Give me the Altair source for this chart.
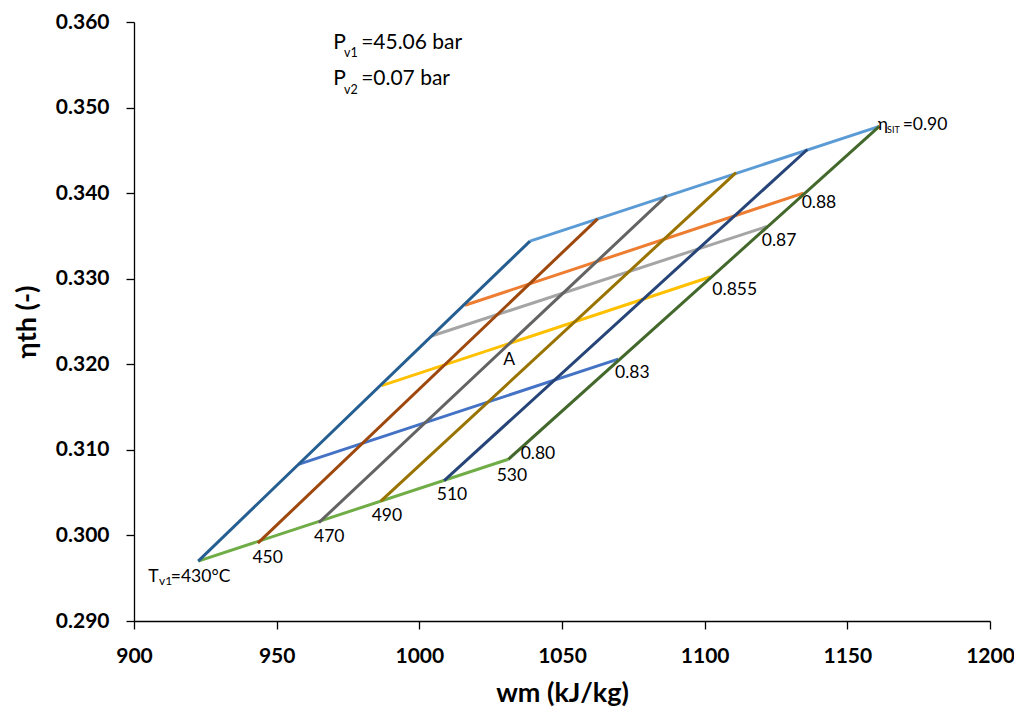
import altair as alt
import pandas as pd

FONT = "Lato, 'Noto Sans', 'DejaVu Sans', sans-serif"

# Lines of constant isentropic turbine efficiency (eta_SIT), from T=430 to T=530
eta_names = ["0.90", "0.88", "0.87", "0.855", "0.83", "0.80"]
eta_colors = ["#5B9BD5", "#ED7D31", "#A5A5A5", "#FFC000", "#4472C4", "#70AD47"]
eta_x_start = [1038.8, 1016.0, 1004.3, 986.8, 957.6, 922.5]
eta_y_start = [0.3344, 0.3269, 0.3233, 0.3175, 0.3083, 0.2970]
eta_x_end = [1161.2, 1134.6, 1121.8, 1101.9, 1069.7, 1031.2]
eta_y_end = [0.3478, 0.3400, 0.3361, 0.3302, 0.3206, 0.3089]

# Lines of constant live-steam temperature T_v1, from eta=0.80 to eta=0.90
t_names = ["430", "450", "470", "490", "510", "530"]
t_colors = ["#255E91", "#9E480E", "#636363", "#997300", "#264478", "#43682B"]
t_x_start = [922.5, 943.4, 964.8, 986.5, 1008.7, 1031.2]
t_y_start = [0.2970, 0.2991, 0.3015, 0.3040, 0.3064, 0.3089]
t_x_end = [1038.8, 1062.5, 1086.7, 1111.0, 1136.0, 1161.2]
t_y_end = [0.3344, 0.3370, 0.3397, 0.3424, 0.3451, 0.3478]

# Data labels (left edge, baseline) in data units
lab_text = ["0.88", "0.87", "0.855", "0.83", "0.80", "530", "510", "490", "470", "450", "A",
            "T", "=430°C", "η", "=0.90"]
lab_x = [1134.0, 1120.0, 1102.7, 1068.6, 1035.5, 1027.1, 1006.1, 983.3, 963.1, 941.5, 1029.4,
         905.0, 912.9, 1160.7, 1169.4]
lab_y = [0.33831, 0.33387, 0.32808, 0.31844, 0.30891, 0.30640, 0.30409, 0.30166, 0.29926, 0.29676, 0.31991,
         0.29451, 0.29451, 0.34737, 0.34737]

sub_text = ["v1"]
sub_x = [908.8]
sub_y = [0.29422]

tiny_text = ["SIT"]
tiny_x = [1163.9]
tiny_y = [0.34699]

# Pressure annotations
p_text = ["P", "=45.06 bar", "P", "=0.07 bar"]
p_x = [969.8, 979.6, 969.8, 979.6]
p_y = [0.35686, 0.35686, 0.35258, 0.35258]
psub_text = ["v1", "v2"]
psub_x = [973.6, 973.6]
psub_y = [0.35586, 0.35157]

x_ticks = [900, 950, 1000, 1050, 1100, 1150, 1200]
y_ticks = [0.290, 0.300, 0.310, 0.320, 0.330, 0.340, 0.350, 0.360]

eta_rows, t_rows = [], []
for i, n in enumerate(eta_names):
    eta_rows.append({"series": "eta " + n, "x": eta_x_start[i], "y": eta_y_start[i], "pt": 0})
    eta_rows.append({"series": "eta " + n, "x": eta_x_end[i], "y": eta_y_end[i], "pt": 1})
for i, n in enumerate(t_names):
    t_rows.append({"series": "T " + n, "x": t_x_start[i], "y": t_y_start[i], "pt": 0})
    t_rows.append({"series": "T " + n, "x": t_x_end[i], "y": t_y_end[i], "pt": 1})
eta_df = pd.DataFrame(eta_rows)
t_df = pd.DataFrame(t_rows)

xscale = alt.Scale(domain=[900, 1200], nice=False, zero=False)
yscale = alt.Scale(domain=[0.29, 0.36], nice=False, zero=False)

x_axis = alt.Axis(values=x_ticks, format="d", grid=False,
                  labelFont=FONT, labelFontSize=21, labelFontWeight="bold", labelColor="black",
                  titleFont=FONT, titleFontSize=27, titleFontWeight="bold", titleColor="black",
                  domainColor="black", domainWidth=1.3, tickColor="black", tickSize=8, tickWidth=1.3,
                  labelPadding=16, titlePadding=14, labelFlush=False)
y_axis = alt.Axis(values=y_ticks, format=".3f", grid=False,
                  labelFont=FONT, labelFontSize=21, labelFontWeight="bold", labelColor="black",
                  titleFont=FONT, titleFontSize=27, titleFontWeight="bold", titleColor="black",
                  domainColor="black", domainWidth=1.3, tickColor="black", tickSize=8, tickWidth=1.3,
                  labelPadding=17, titlePadding=14, labelFlush=False)

X = alt.X("x:Q", scale=xscale, axis=x_axis, title="wm (kJ/kg)")
Y = alt.Y("y:Q", scale=yscale, axis=y_axis, title="ηth (-)")

eta_lines = alt.Chart(eta_df).mark_line(strokeWidth=3).encode(
    x=X, y=Y,
    color=alt.Color("series:N", scale=alt.Scale(domain=["eta " + n for n in eta_names], range=eta_colors), legend=None),
    order="pt:Q",
)

t_lines = alt.Chart(t_df).mark_line(strokeWidth=3).encode(
    x=X, y=Y,
    stroke=alt.Stroke("series:N", scale=alt.Scale(domain=["T " + n for n in t_names], range=t_colors), legend=None),
    order="pt:Q",
)


def text_layer(texts, xs, ys, size):
    df = pd.DataFrame({"text": texts, "x": xs, "y": ys})
    return alt.Chart(df).mark_text(align="left", baseline="alphabetic", font=FONT,
                                   fontSize=size, color="black").encode(
        x=X, y=Y, text="text:N",
    )


labels = text_layer(lab_text, lab_x, lab_y, 17.5)
subs = text_layer(sub_text, sub_x, sub_y, 12)
tiny = text_layer(tiny_text, tiny_x, tiny_y, 9)
ptext = text_layer(p_text, p_x, p_y, 21)
psubs = text_layer(psub_text, psub_x, psub_y, 12.5)

chart = alt.layer(eta_lines, t_lines, labels, subs, tiny, ptext, psubs).resolve_scale(
    color="independent", stroke="independent"
).properties(
    width=856, height=599,
    padding={"left": 126, "top": 14, "right": 24, "bottom": 92},
    autosize=alt.AutoSizeParams(type="none"),
    background="white",
).configure_view(stroke=None)

chart.save("out.html", embed_options={"renderer": "svg", "actions": False})
